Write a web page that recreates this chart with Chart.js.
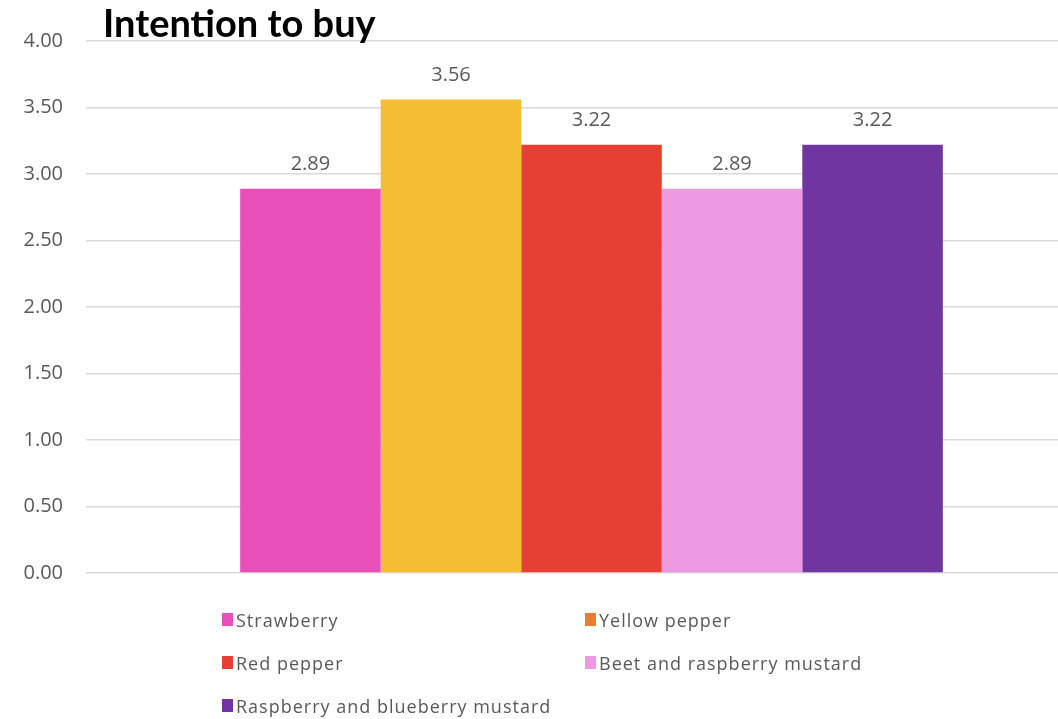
<!DOCTYPE html>
<html>
<head>
<meta charset="utf-8">
<script src="https://cdn.jsdelivr.net/npm/chart.js@4/dist/chart.umd.min.js"></script>
<style>
  html, body { margin: 0; padding: 0; background: #fff; overflow: hidden; width: 1058px; height: 719px; }
  #wrap { position: absolute; left: 0; top: 0; width: 1097px; height: 719px; }
  #title { position: absolute; left: 103px; top: -1px; font-family: Lato, "Open Sans", sans-serif; font-weight: bold; font-size: 38px; color: #000; }
  #legend { position: absolute; left: 222px; top: 607px; display: grid; grid-template-columns: 363px 300px; row-gap: 18px;
            font-family: "Open Sans", sans-serif; font-size: 18px; letter-spacing: 1px; color: #595959; }
  #legend div { display: flex; align-items: center; height: 25px; }
  #legend span.box { display: inline-block; width: 11px; height: 13px; margin-right: 3px; }
</style>
</head>
<body>
<div id="wrap"><canvas id="chart" width="1097" height="719"></canvas></div>
<div id="title">Intention to buy</div>
<div id="legend"></div>
<script>
const categories = ['Intention to buy'];
const seriesNames = ['Strawberry', 'Yellow pepper', 'Red pepper', 'Beet and raspberry mustard', 'Raspberry and blueberry mustard'];
const seriesValues = [2.89, 3.56, 3.22, 2.89, 3.22];
const barColors = ['#E74FB9', '#F5BE32', '#E63F33', '#EE9AE3', '#7035A0'];
const legendColors = ['#E74FB9', '#ED7D31', '#E63F33', '#EE9AE3', '#7035A0'];
const yTicks = [0, 0.5, 1, 1.5, 2, 2.5, 3, 3.5, 4];

const valueLabels = {
  id: 'valueLabels',
  afterDatasetsDraw(chart) {
    const ctx = chart.ctx;
    ctx.save();
    ctx.font = '20px "Open Sans", sans-serif';
    ctx.fillStyle = '#595959';
    ctx.textAlign = 'center';
    ctx.textBaseline = 'middle';
    chart.data.datasets.forEach((ds, i) => {
      chart.getDatasetMeta(i).data.forEach((bar, j) => {
        ctx.fillText(ds.data[j].toFixed(2), bar.x, bar.y - 24);
      });
    });
    ctx.restore();
  }
};

const chart = new Chart(document.getElementById('chart'), {
  type: 'bar',
  data: {
    labels: categories,
    datasets: seriesNames.map((name, i) => ({
      label: name,
      data: [seriesValues[i]],
      backgroundColor: barColors[i],
      borderWidth: 0
    }))
  },
  options: {
    responsive: false,
    animation: false,
    categoryPercentage: 0.695,
    barPercentage: 1.0,
    layout: { padding: { left: 0, right: 0, top: 41, bottom: 146 } },
    plugins: {
      legend: { display: false },
      tooltip: { enabled: false },
      title: { display: false }
    },
    scales: {
      x: { display: false },
      y: {
        min: 0,
        max: 4,
        afterFit(scale) { scale.width = 86; },
        afterBuildTicks(scale) { scale.ticks = yTicks.map(v => ({ value: v })); },
        ticks: {
          padding: 23,
          color: '#595959',
          font: { family: '"Open Sans", sans-serif', size: 20 },
          callback: v => Number(v).toFixed(2)
        },
        grid: { color: '#d9d9d9', lineWidth: 1.5, drawTicks: false },
        border: { display: false }
      }
    }
  },
  plugins: [valueLabels]
});

const legend = document.getElementById('legend');
seriesNames.forEach((name, i) => {
  const item = document.createElement('div');
  const box = document.createElement('span');
  box.className = 'box';
  box.style.background = legendColors[i];
  item.appendChild(box);
  item.appendChild(document.createTextNode(name));
  legend.appendChild(item);
});
</script>
</body>
</html>
